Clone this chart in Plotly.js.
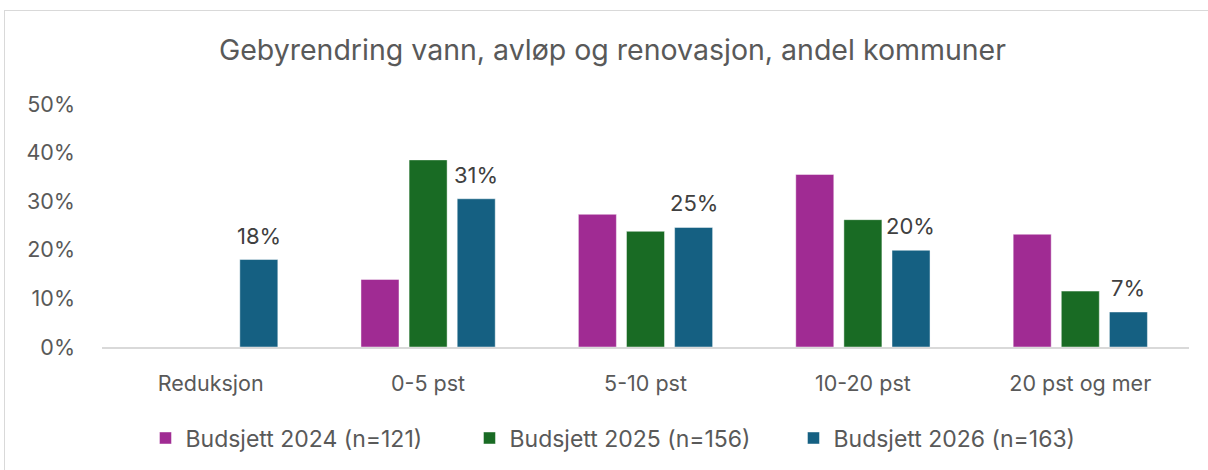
<!DOCTYPE html>
<html><head><meta charset="utf-8">
<script src="https://cdn.plot.ly/plotly-3.0.1.min.js"></script>
<style>
html,body{margin:0;padding:0;background:#fff;}
#frame{position:absolute;left:4px;top:10px;width:1300px;height:600px;border-top:1.5px solid #d9d9d9;border-left:1.5px solid #d9d9d9;}
#chart{position:absolute;left:0;top:0;width:1208px;height:470px;}
</style></head>
<body>
<div id="frame"></div>
<div id="chart"></div>
<script>
const categories = ['Reduksjon', '0-5 pst', '5-10 pst', '10-20 pst', '20 pst og mer'];
const seriesNames = ['Budsjett 2024 (n=121)', 'Budsjett 2025 (n=156)', 'Budsjett 2026 (n=163)'];
const budsjett2024 = [null, 13.9, 27.3, 35.5, 23.2];
const budsjett2025 = [null, 38.5, 23.8, 26.2, 11.5];
const budsjett2026 = [18.0, 30.5, 24.6, 19.9, 7.2];
const yTicks = [0, 10, 20, 30, 40, 50];
const yTickLabels = ['0%', '10%', '20%', '30%', '40%', '50%'];
const colors = ['#A02B93', '#196B24', '#156082'];
const FONT = 'Inter, Liberation Sans, Arial, sans-serif';

const seriesValues = [budsjett2024, budsjett2025, budsjett2026];
const traces = seriesValues.map((vals, i) => ({
  type: 'bar', name: seriesNames[i], x: categories, y: vals,
  marker: {color: colors[i], line: {color: 'rgba(255,255,255,0.45)', width: 1}},
  hoverinfo: 'x+y'
}));

const annotations = categories.map((c, i) => ({
  x: c, y: budsjett2026[i], xref: 'x', yref: 'y',
  text: Math.round(budsjett2026[i]) + '%', showarrow: false,
  xanchor: 'center', yanchor: 'bottom', xshift: 48, yshift: 9,
  font: {family: FONT, size: 22, color: '#404040'}
}));

const layout = {
  width: 1208, height: 470,
  paper_bgcolor: 'rgba(0,0,0,0)', plot_bgcolor: 'rgba(0,0,0,0)',
  margin: {l: 102, r: 19, t: 104, b: 122},
  font: {family: FONT, size: 22, color: '#595959'},
  title: {text: 'Gebyrendring vann, avløp og renovasjon, andel kommuner',
          font: {family: FONT, size: 28.5, color: '#595959'},
          x: 0.507, xanchor: 'center', y: 0.893, yanchor: 'middle', xref: 'container', yref: 'container'},
  barmode: 'group', bargap: 0.336, bargroupgap: 0.21,
  xaxis: {type: 'category', showgrid: false, showline: true, linecolor: '#d9d9d9', linewidth: 2,
          ticks: '', ticklabelstandoff: 16, tickfont: {size: 21.5, color: '#595959'}, fixedrange: true},
  yaxis: {range: [0, 50], tickvals: yTicks, ticktext: yTickLabels, showgrid: false, zeroline: false,
          showline: false, ticks: '', ticklabelstandoff: 26, tickfont: {size: 21.5, color: '#595959'}, fixedrange: true},
  legend: {orientation: 'h', x: 0.04, xanchor: 'left', y: -0.369, yanchor: 'middle',
           font: {size: 23, color: '#595959'}, itemwidth: 30, traceorder: 'normal',
           entrywidth: 279, entrywidthmode: 'pixels'},
  annotations: annotations,
  showlegend: true
};

Plotly.newPlot('chart', traces, layout, {displayModeBar: false, staticPlot: true});
</script>
</body></html>
